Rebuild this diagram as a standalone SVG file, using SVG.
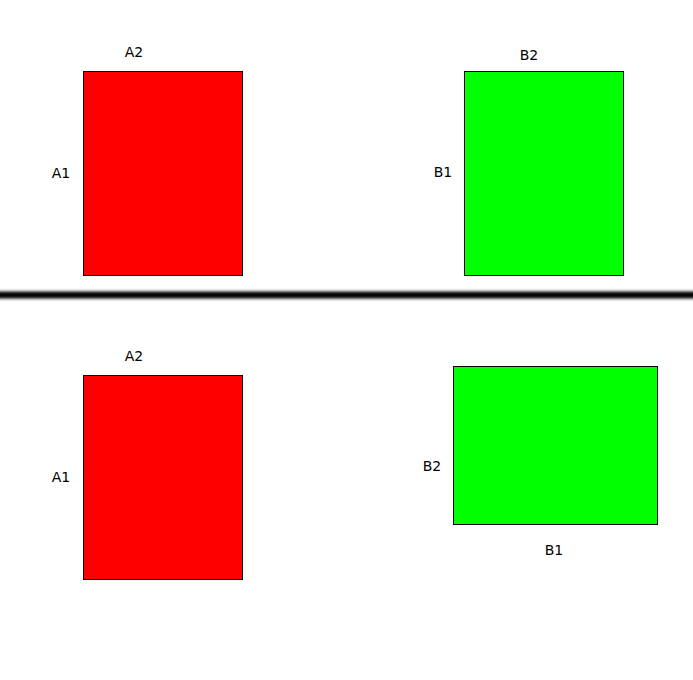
<svg xmlns="http://www.w3.org/2000/svg" width="693" height="680" viewBox="0 0 693 680">
<style>
.r{fill:#ff0000;stroke:#000;stroke-width:1}
.g{fill:#00ff00;stroke:#000;stroke-width:1}
.t{font-family:"DejaVu Sans",Verdana,sans-serif;font-size:14px;fill:#000;text-anchor:middle}
</style>
<defs><filter id="bl" filterUnits="userSpaceOnUse" x="-20" y="270" width="733" height="50"><feGaussianBlur stdDeviation="1.6"/></filter></defs>
<rect width="693" height="680" fill="#fff"/>
<g id="divider"><rect x="-10" y="291.5" width="713" height="7" fill="#000" filter="url(#bl)"/></g>
<g id="a-top"><rect class="r" x="83.5" y="71.5" width="159" height="204"/><text class="t" x="134" y="57">A2</text><text class="t" x="61" y="178">A1</text></g>
<g id="b-top"><rect class="g" x="464.5" y="71.5" width="159" height="204"/><text class="t" x="529" y="60">B2</text><text class="t" x="443" y="177">B1</text></g>
<g id="a-bottom"><rect class="r" x="83.5" y="375.5" width="159" height="204"/><text class="t" x="134" y="361">A2</text><text class="t" x="61" y="482">A1</text></g>
<g id="b-bottom"><rect class="g" x="453.5" y="366.5" width="204" height="158"/><text class="t" x="432" y="471">B2</text><text class="t" x="554" y="555">B1</text></g>
<g id="connectors"/>
</svg>
